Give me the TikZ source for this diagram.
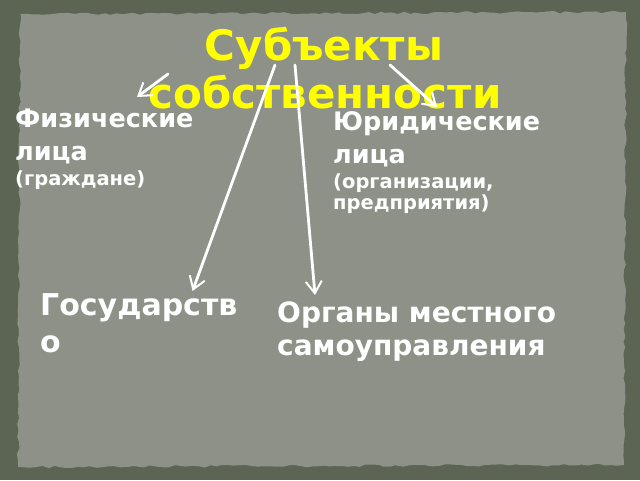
\documentclass[tikz,border=0pt]{standalone}
\usepackage{fontspec}
\setmainfont{DejaVu Sans}
\usepackage{tikz}
\usetikzlibrary{arrows.meta, calc, decorations.pathmorphing, positioning}
\usepackage{xcolor}
\definecolor{Frame}{RGB}{92,100,84}
\definecolor{Paper}{RGB}{141,145,135}
\definecolor{TitleYellow}{RGB}{255,255,0}
\tikzset{%
  title_text/.style={%
    color=TitleYellow,%
    font={\bfseries\fontsize{42}{48}\selectfont},%
    inner sep=0pt,%
    anchor=base%
  },
  item_text/.style={%
    color=white,%
    font={\bfseries\fontsize{25.5}{32.5}\selectfont},%
    align=left,%
    inner sep=0pt,%
    anchor=base west%
  },
  note_text/.style={%
    color=white,%
    font={\bfseries\fontsize{19.5}{21}\selectfont},%
    align=left,%
    inner sep=0pt,%
    anchor=base west%
  },
  paper_edge/.style={%
    fill=Paper,%
    decorate,%
    decoration={random steps, segment length=6pt, amplitude=1.3pt}%
  },
  arrow/.style={-{Straight Barb[length=12pt, width=16pt, line width=2pt]}},
  white_path/.style={%
    color=white,%
    line width=2.8pt,%
    line cap=round,%
    line join=round%
  },
}
\begin{document}
\begin{tikzpicture}[x=1pt, y=-1pt]

    \useasboundingbox (0,0) rectangle (640,480);
    \fill [Frame] (0,0) rectangle (640,480);
    \pgfmathsetseed{11}
    \path [paper_edge] (20,14) -- (626,12) -- (624,465) -- (18,467) -- cycle;

    \node [title_text] (Subj) at (324,60) {Субъекты};
    \node [title_text] (Sobstv) at ($(Subj.base)+(1,48)$) {собственности};

    % base of a two-line node is its last line
    \node [item_text] (Phys) at (15,160) {Физические\\лица};
    \node [note_text] (PhysNote) at ($(Phys.base west)+(0,25)$) {(граждане)};

    \node [item_text] (Jur) at (333,163) {Юридические\\лица};
    \node [note_text] (JurNote) at ($(Jur.base west)+(0,46)$) {(организации,\\предприятия)};

    \node [item_text, font={\bfseries\fontsize{30}{37}\selectfont}] (State) at (40,352) {Государств\\о};
    \node [item_text, font={\bfseries\fontsize{28}{33}\selectfont}] (Local) at (277,355) {Органы местного\\самоуправления};

    \coordinate (from_phys) at (168,74);
    \coordinate (to_phys) at (137,97);
    \coordinate (from_state) at (275,65);
    \coordinate (to_state) at ($(State.north east)+(-45,-2)$);
    \coordinate (from_local) at (295,65);
    \coordinate (to_local) at ($(Local.north west)+(38,-6)$);
    \coordinate (from_jur) at (390,65);
    \coordinate (to_jur) at (437,107);

    \draw [arrow, white_path] (from_phys) -- (to_phys);
    \draw [arrow, white_path] (from_state) -- (to_state);
    \draw [arrow, white_path] (from_local) -- (to_local);
    \draw [arrow, white_path] (from_jur) -- (to_jur);

\end{tikzpicture}
\end{document}
